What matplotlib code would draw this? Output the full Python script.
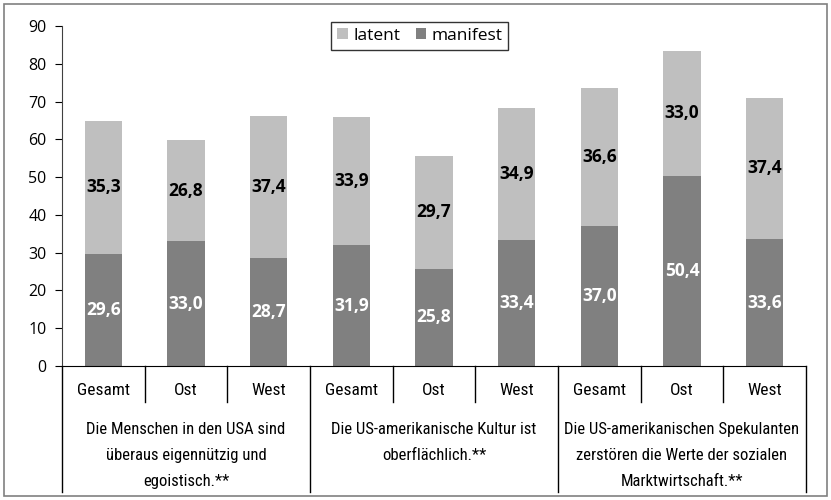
import matplotlib
matplotlib.use("Agg")
import matplotlib.pyplot as plt
from matplotlib.patches import Rectangle

groups = [
    "Die Menschen in den USA sind\nüberaus eigennützig und\negoistisch.**",
    "Die US-amerikanische Kultur ist\noberflächlich.**",
    "Die US-amerikanischen Spekulanten\nzerstören die Werte der sozialen\nMarktwirtschaft.**",
]
subgroups = ["Gesamt", "Ost", "West"]
manifest = [29.6, 33.0, 28.7, 31.9, 25.8, 33.4, 37.0, 50.4, 33.6]
latent = [35.3, 26.8, 37.4, 33.9, 29.7, 34.9, 36.6, 33.0, 37.4]

C_LAT = "#bfbfbf"
C_MAN = "#808080"
NUM_FONT = ["Open Sans", "DejaVu Sans"]
CAT_FONT = ["Liberation Sans Narrow", "Roboto Condensed", "Liberation Sans", "DejaVu Sans"]

fig = plt.figure(figsize=(8.31, 5), dpi=100)
fig.patches.append(Rectangle((4 / 831, 4 / 500), 823 / 831, 492 / 500,
                             transform=fig.transFigure, fill=False,
                             edgecolor="#808080", linewidth=1.2))
ax = fig.add_axes([62 / 831, 1 - 366 / 500, 744 / 831, 340 / 500])

x = list(range(len(manifest)))
ax.bar(x, latent, bottom=manifest, width=0.45, color=C_LAT, label="latent")
ax.bar(x, manifest, width=0.45, color=C_MAN, label="manifest")

for i in x:
    ax.text(i, manifest[i] / 2, f"{manifest[i]:.1f}".replace(".", ","),
            ha="center", va="center", color="white", fontweight="bold",
            fontsize=12.5, family=NUM_FONT)
    ax.text(i, manifest[i] + latent[i] / 2, f"{latent[i]:.1f}".replace(".", ","),
            ha="center", va="center", color="black", fontweight="bold",
            fontsize=12.5, family=NUM_FONT)

ax.set_xlim(-0.5, len(x) - 0.5)
ax.set_ylim(0, 90)
ax.set_yticks(range(0, 91, 10))
ax.tick_params(axis="y", labelsize=11.5, length=5, direction="out", pad=6)
for lab in ax.get_yticklabels():
    lab.set_family(NUM_FONT)
ax.set_xticks([])
for s in ["top", "right"]:
    ax.spines[s].set_visible(False)
ax.spines["left"].set_color("#404040")
ax.spines["bottom"].set_color("black")

# two-level category axis
tr = ax.get_xaxis_transform()
for i in range(len(x) + 1):
    xpos = i - 0.5
    y_end = -0.37 if i % 3 == 0 else -0.106
    ax.plot([xpos, xpos], [0, y_end], transform=tr, color="black",
            linewidth=1.0, clip_on=False)
for i in x:
    ax.text(i, -0.073, subgroups[i % 3], transform=tr, ha="center",
            va="center", fontsize=12.5, family=CAT_FONT)
for g, name in enumerate(groups):
    ax.text(g * 3 + 1, -0.166, name, transform=tr, ha="center", va="top",
            fontsize=12, family=CAT_FONT, linespacing=1.9)

leg = ax.legend(loc="upper center", bbox_to_anchor=(0.481, 1.012), ncol=2,
                frameon=True, fancybox=False, handlelength=0.6,
                handleheight=0.6, handletextpad=0.3, columnspacing=0.9,
                borderpad=0.35, borderaxespad=0,
                prop={"family": NUM_FONT, "size": 12.5})
leg.get_frame().set_edgecolor("black")
leg.get_frame().set_linewidth(1.0)

fig.savefig("out.png", dpi=100)
